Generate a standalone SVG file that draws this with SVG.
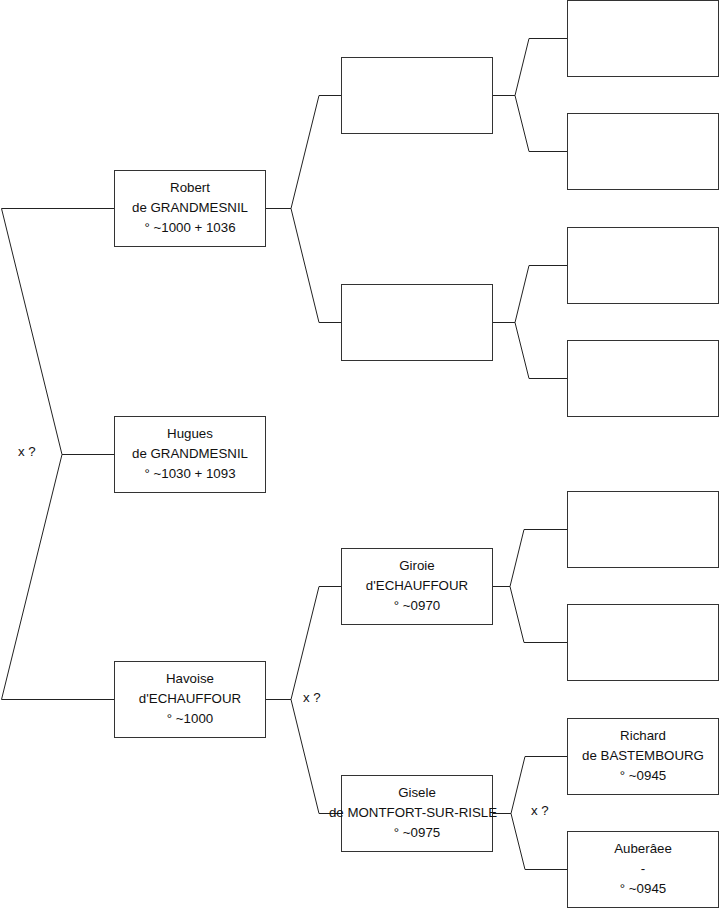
<svg xmlns="http://www.w3.org/2000/svg" width="719" height="908" viewBox="0 0 719 908">
<style>
.box{fill:#fff;stroke:#333;stroke-width:1}
.ln{fill:none;stroke:#222;stroke-width:1}
text{font-family:"Liberation Sans",Arial,sans-serif;font-size:13.3px;fill:#111;text-anchor:middle}
.lbl{text-anchor:start}
</style>
<rect width="719" height="908" fill="#fff"/>
<g id="connectors">
<polyline class="ln" points="114,208.5 1.5,208.5 62,454.5 1.5,699.5 114,699.5"/>
<line class="ln" x1="62" y1="454.5" x2="114" y2="454.5"/>
<polyline class="ln" points="341,95.5 319,95.5 291,208.5 319,322.5 341,322.5"/>
<line class="ln" x1="265" y1="208.5" x2="291" y2="208.5"/>
<polyline class="ln" points="567,38.5 529,38.5 515,95.5 529,151.5 567,151.5"/>
<line class="ln" x1="492" y1="95.5" x2="515" y2="95.5"/>
<polyline class="ln" points="567,265.5 529,265.5 515,322.5 529,378.5 567,378.5"/>
<line class="ln" x1="492" y1="322.5" x2="515" y2="322.5"/>
<polyline class="ln" points="341,586.5 319,586.5 291,699.5 319,813.5 341,813.5"/>
<line class="ln" x1="265" y1="699.5" x2="291" y2="699.5"/>
<polyline class="ln" points="567,529.5 524,529.5 510,586.5 524,642.5 567,642.5"/>
<line class="ln" x1="492" y1="586.5" x2="510" y2="586.5"/>
<polyline class="ln" points="567,756.5 525,756.5 511,813.5 525,869.5 567,869.5"/>
<line class="ln" x1="492" y1="813.5" x2="511" y2="813.5"/>
<text class="lbl" x="18" y="456">x ?</text>
<text class="lbl" x="303" y="702">x ?</text>
<text class="lbl" x="531" y="815">x ?</text>
</g>
<g id="robert"><rect class="box" x="114.5" y="170.5" width="151" height="76"/><text x="190" y="191.5">Robert</text><text x="190" y="211.5">de GRANDMESNIL</text><text x="190" y="231.5">° ~1000 + 1036</text></g>
<g id="hugues"><rect class="box" x="114.5" y="416.5" width="151" height="76"/><text x="190" y="437.5">Hugues</text><text x="190" y="457.5">de GRANDMESNIL</text><text x="190" y="477.5">° ~1030 + 1093</text></g>
<g id="havoise"><rect class="box" x="114.5" y="661.5" width="151" height="76"/><text x="190" y="682.5">Havoise</text><text x="190" y="702.5">d'ECHAUFFOUR</text><text x="190" y="722.5">° ~1000</text></g>
<g id="p1"><rect class="box" x="341.5" y="57.5" width="151" height="76"/></g>
<g id="p2"><rect class="box" x="341.5" y="284.5" width="151" height="76"/></g>
<g id="giroie"><rect class="box" x="341.5" y="548.5" width="151" height="76"/><text x="417" y="569.5">Giroie</text><text x="417" y="589.5">d'ECHAUFFOUR</text><text x="417" y="609.5">° ~0970</text></g>
<g id="gisele"><rect class="box" x="341.5" y="775.5" width="151" height="76"/><text x="417" y="796.5">Gisele</text><text x="413" y="816.5">de MONTFORT-SUR-RISLE</text><text x="417" y="836.5">° ~0975</text></g>
<g id="g1"><rect class="box" x="567.5" y="0.5" width="151" height="76"/></g>
<g id="g2"><rect class="box" x="567.5" y="113.5" width="151" height="76"/></g>
<g id="g3"><rect class="box" x="567.5" y="227.5" width="151" height="76"/></g>
<g id="g4"><rect class="box" x="567.5" y="340.5" width="151" height="76"/></g>
<g id="g5"><rect class="box" x="567.5" y="491.5" width="151" height="76"/></g>
<g id="g6"><rect class="box" x="567.5" y="604.5" width="151" height="76"/></g>
<g id="richard"><rect class="box" x="567.5" y="718.5" width="151" height="76"/><text x="643" y="739.5">Richard</text><text x="643" y="759.5">de BASTEMBOURG</text><text x="643" y="779.5">° ~0945</text></g>
<g id="auberaee"><rect class="box" x="567.5" y="831.5" width="151" height="76"/><text x="643" y="852.5">Auberâee</text><text x="643" y="872.5">-</text><text x="643" y="892.5">° ~0945</text></g>
</svg>
